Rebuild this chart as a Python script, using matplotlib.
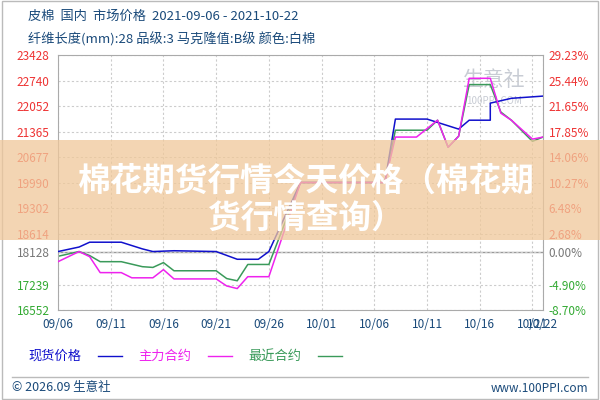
import datetime as dt
import matplotlib.pyplot as plt
from matplotlib.patches import Rectangle
from matplotlib.lines import Line2D

plt.rcParams['font.family'] = ['Noto Sans CJK SC', 'DejaVu Sans']

start = dt.date(2021, 9, 6)
base = 18128

# day offsets from 09/06 and prices
spot_days = [0, 2, 3, 6, 8, 9, 11, 15, 17, 19, 20, 23, 31, 32.8, 35, 38, 39, 41, 41.6, 43, 46]
spot_vals = [18128, 18250, 18380, 18380, 18200, 18128, 18150, 18128, 17920, 17920, 18128,
             19990, 19990, 21700, 21700, 21430, 21670, 21670, 22130, 22260, 22320]

main_days = [0, 2, 3, 4, 6, 7.8, 9, 10, 11, 15, 16, 17, 18, 20, 23, 31, 32, 34, 36, 37, 38, 39, 41, 42, 43, 45, 46]
main_vals = [17855, 18128, 17990, 17560, 17560, 17420, 17420, 17640, 17390, 17390, 17200, 17130,
             17450, 17450, 19990, 19990, 21215, 21215, 21670, 20940, 21240, 22800, 22800, 21860,
             21670, 21160, 21215]

near_days = [0, 2, 3, 4, 6, 8, 9, 10, 11, 15, 16, 17, 18, 20, 23, 31, 32, 35, 36, 37, 38, 39, 41, 42, 43, 45, 46]
near_vals = [18000, 18128, 18020, 17855, 17855, 17720, 17700, 17830, 17610, 17610, 17400, 17340,
             17780, 17780, 19990, 19990, 21400, 21400, 21670, 20940, 21240, 22630, 22630, 21890,
             21670, 21100, 21215]

left_ticks = [23428, 22740, 22052, 21365, 20677, 19990, 19302, 18614, 18128, 17239, 16552]
right_labels = ["29.23%", "25.44%", "21.65%", "17.85%", "14.06%", "10.27%", "6.48%", "2.68%",
                "0.00%", "-4.90%", "-8.70%"]
xtick_days = [0, 5, 10, 15, 20, 25, 30, 35, 40, 45, 46]
xtick_labels = ["09/06", "09/11", "09/16", "09/21", "09/26", "10/01", "10/06", "10/11", "10/16", "10/21", "10/22"]


def to_dates(days):
    return [start + dt.timedelta(days=d) for d in days]


fig = plt.figure(figsize=(6, 4), dpi=100)
fig.patch.set_facecolor('white')
fig.patches.append(Rectangle((0.003, 0.003), 0.994, 0.994, transform=fig.transFigure,
                             fill=False, edgecolor='#bbbbbb', lw=1))
ax = fig.add_axes([58 / 600, 90 / 400, 485 / 600, 255 / 400])

ax.plot(to_dates(spot_days), spot_vals, color='#1010cc', lw=1.1, zorder=3)
ax.plot(to_dates(main_days), main_vals, color='#ee22ee', lw=1.1, zorder=3)
ax.plot(to_dates(near_days), near_vals, color='#3a9a5a', lw=1.1, zorder=2)
ax.axhline(base, color='#999999', lw=1, zorder=1)

ax.set_xlim(start, start + dt.timedelta(days=46))
ax.set_ylim(16552, 23428)
ax.set_yticks(left_ticks)
ax.set_yticklabels([str(v) for v in left_ticks], fontsize=8.5)
for lab, v in zip(ax.get_yticklabels(), left_ticks):
    lab.set_color('#ee3333' if v > base else ('#777777' if v == base else '#33aa33'))
ax.set_xticks(to_dates(xtick_days))
ax.set_xticklabels(xtick_labels, fontsize=8.5, color='#1a4a7a')
ax.tick_params(length=0, pad=6)
ax.grid(True, color='#cccccc', ls=(0, (2, 2)), lw=0.8)
for s in ax.spines.values():
    s.set_color('#aaaaaa')

ax2 = ax.twinx()
ax2.set_ylim(16552, 23428)
ax2.set_yticks(left_ticks)
ax2.set_yticklabels(right_labels, fontsize=8.5)
for lab, v in zip(ax2.get_yticklabels(), left_ticks):
    lab.set_color('#ee3333' if v > base else ('#777777' if v == base else '#33aa33'))
ax2.tick_params(length=0, pad=4)
for s in ax2.spines.values():
    s.set_visible(False)

# watermark
ax.text(0.9, 0.9, "生意社", transform=ax.transAxes, fontsize=15, color='#c8ccd4', ha='center', va='center', zorder=0)
ax.text(0.9, 0.82, "100PPI.COM", transform=ax.transAxes, fontsize=7, color='#c8ccd4', ha='center', va='center', zorder=0)

hc = '#1a4a7a'
fig.text(28 / 600, 1 - 16 / 400, "皮棉  国内  市场价格  2021-09-06 - 2021-10-22", fontsize=9.5, color=hc, va='center')
fig.text(28 / 600, 1 - 39 / 400, "纤维长度(mm):28 品级:3 马克隆值:B级 颜色:白棉", fontsize=9.5, color=hc, va='center')

# legend row
ly = 1 - 356 / 400
fig.text(28 / 600, ly, "现货价格", fontsize=9.5, color='#1010cc', va='center')
fig.add_artist(Line2D([98 / 600, 122 / 600], [ly, ly], color='#1010cc', lw=1))
fig.text(138 / 600, ly, "主力合约", fontsize=9.5, color='#ee22ee', va='center')
fig.add_artist(Line2D([208 / 600, 232 / 600], [ly, ly], color='#ee22ee', lw=1))
fig.text(248 / 600, ly, "最近合约", fontsize=9.5, color='#3a9a5a', va='center')
fig.add_artist(Line2D([318 / 600, 342 / 600], [ly, ly], color='#3a9a5a', lw=1))

# footer
fig.add_artist(Line2D([12 / 600, 588 / 600], [1 - 377 / 400, 1 - 377 / 400], color='#bbbbbb', lw=1))
fig.text(12 / 600, 1 - 388 / 400, "© 2026.09 生意社", fontsize=9, color=hc, va='center')
fig.text(588 / 600, 1 - 388 / 400, "www.100PPI.com", fontsize=8.5, color=hc, va='center', ha='right')

# overlay banner
fig.patches.append(Rectangle((0, 1 - 240 / 400), 1, 100 / 400, transform=fig.transFigure,
                             facecolor='#f0c89a', alpha=0.75, edgecolor='none', zorder=5))
fig.text(0.51, 1 - 181 / 400, "棉花期货行情今天价格（棉花期", fontsize=23.5, fontweight='bold',
         color='white', ha='center', va='center', zorder=6)
fig.text(0.51, 1 - 218 / 400, "货行情查询）", fontsize=23.5, fontweight='bold',
         color='white', ha='center', va='center', zorder=6)

fig.savefig('out.png', dpi=100)
